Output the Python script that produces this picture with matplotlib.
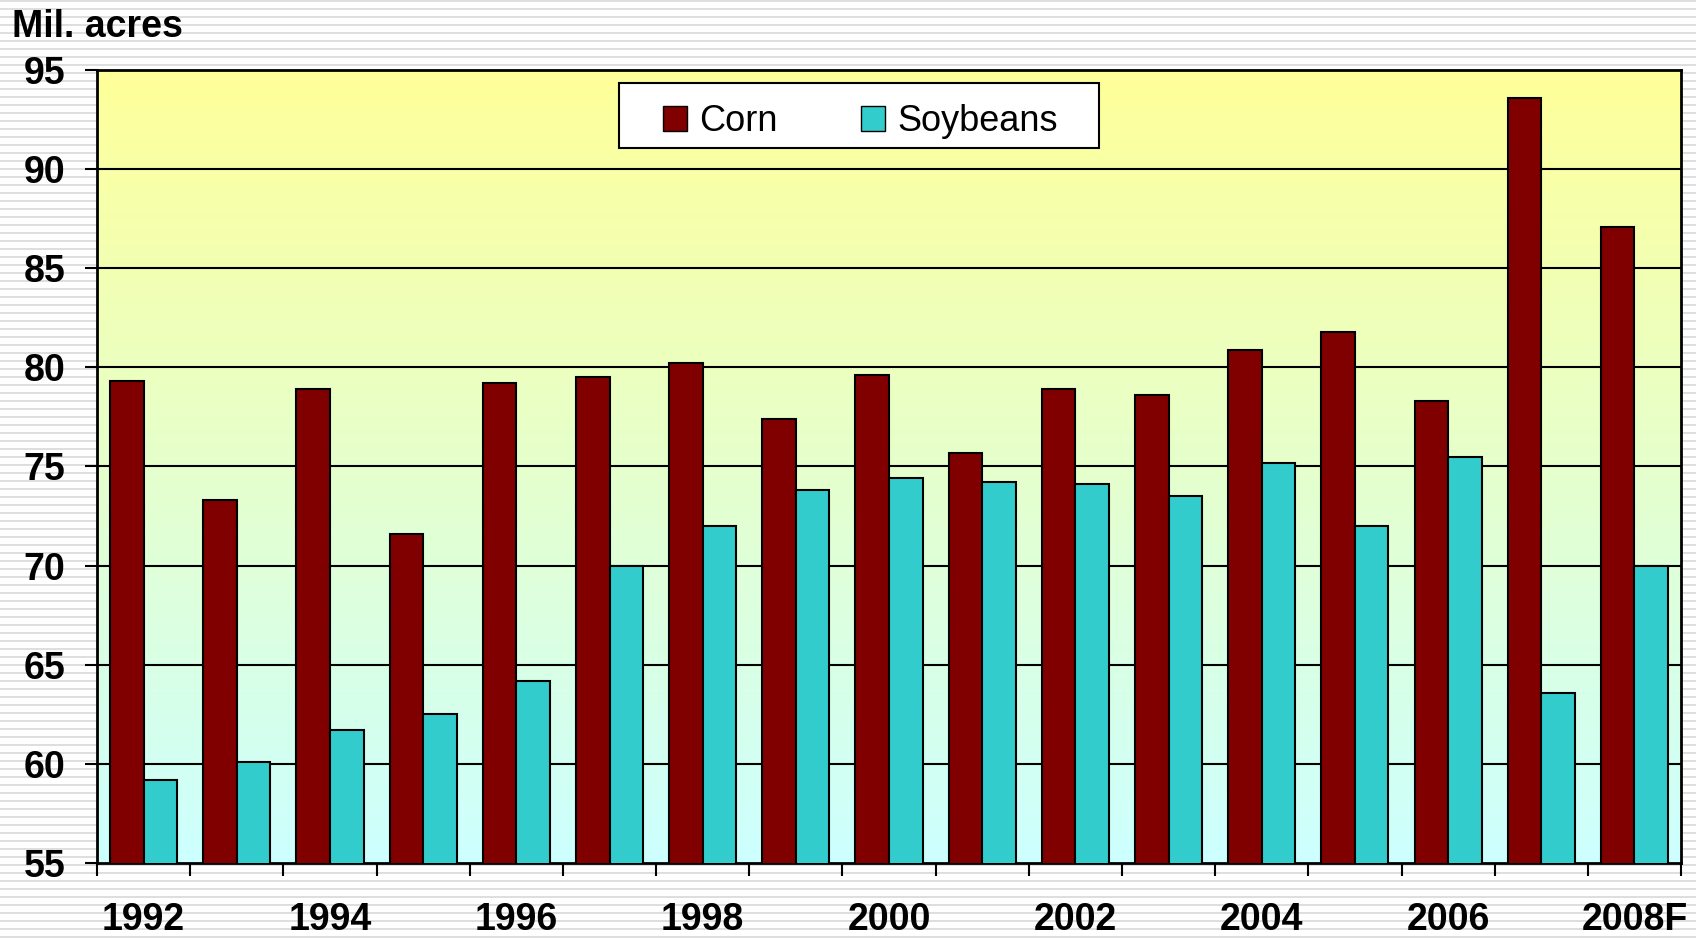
import matplotlib
matplotlib.use("Agg")
import matplotlib.pyplot as plt
import numpy as np
from matplotlib.colors import LinearSegmentedColormap
from matplotlib.patches import Patch, Rectangle

plt.rcParams['font.family'] = ['Liberation Sans', 'DejaVu Sans']

years = ['1992', '1993', '1994', '1995', '1996', '1997', '1998', '1999', '2000',
         '2001', '2002', '2003', '2004', '2005', '2006', '2007', '2008F']
corn = [79.3, 73.3, 78.9, 71.6, 79.2, 79.5, 80.2, 77.4, 79.6,
        75.7, 78.9, 78.6, 80.9, 81.8, 78.3, 93.6, 87.1]
soybeans = [59.2, 60.1, 61.7, 62.5, 64.2, 70.0, 72.0, 73.8, 74.4,
            74.2, 74.1, 73.5, 75.2, 72.0, 75.5, 63.6, 70.0]
y_ticks = [55, 60, 65, 70, 75, 80, 85, 90, 95]

fig = plt.figure(figsize=(16.96, 9.39), dpi=100)

# striped page background
bg = fig.add_axes([0, 0, 1, 1], zorder=-10)
rows = np.zeros((939, 1))
rows[np.arange(939) % 8 < 2] = 1
bg.imshow(rows, aspect='auto', cmap=LinearSegmentedColormap.from_list('s', ['#ffffff', '#dedede']),
          extent=[0, 1, 0, 1], interpolation='nearest')
bg.axis('off')

ax = fig.add_axes([0.0572, 0.0809, 0.9340, 0.8446])

# yellow to cyan gradient inside plot area
grad = np.linspace(0, 1, 256).reshape(-1, 1)
cmap = LinearSegmentedColormap.from_list('g', ['#ccffff', '#ffff99'])
ax.imshow(grad, aspect='auto', cmap=cmap, origin='lower',
          extent=[-0.5, len(years) - 0.5, 55, 95], zorder=0)

x = np.arange(len(years))
w = 0.36
ax.bar(x - w / 2, corn, w, color='#800000', edgecolor='black', linewidth=1.5, zorder=3)
ax.bar(x + w / 2, soybeans, w, color='#33cccc', edgecolor='black', linewidth=1.5, zorder=3)

ax.set_xlim(-0.5, len(years) - 0.5)
ax.set_ylim(55, 95)
ax.set_yticks(y_ticks)
ax.set_yticklabels([str(v) for v in y_ticks], fontsize=27, fontweight='bold')
for v in y_ticks[1:-1]:
    ax.axhline(v, color='black', linewidth=1.5, zorder=2)

ax.set_xticks(np.arange(len(years) + 1) - 0.5)
ax.set_xticklabels([])
ax.set_xticks(x[::2], minor=True)
ax.set_xticklabels([years[i] for i in x[::2]], minor=True, fontsize=27, fontweight='bold')
ax.tick_params(axis='x', which='minor', length=0, pad=28)
ax.tick_params(axis='both', which='major', length=9, width=1.5, direction='out')
ax.tick_params(axis='y', pad=14)

for s in ax.spines.values():
    s.set_linewidth(2)

# legend box drawn separately so it can be wider than matplotlib's padding allows
ax.add_patch(Rectangle((0.3295, 0.9017), 0.3031, 0.0819, transform=ax.transAxes,
                       facecolor='white', edgecolor='black', linewidth=1.5, zorder=5))
handles = [Patch(facecolor='#800000', edgecolor='black', label='Corn'),
           Patch(facecolor='#33cccc', edgecolor='black', label='Soybeans')]
leg = ax.legend(handles=handles, ncol=2, loc='center', bbox_to_anchor=(0.482, 0.935),
                fontsize=26, frameon=False, columnspacing=2.3,
                handlelength=0.66, handleheight=0.66, handletextpad=0.35,
                borderpad=0, borderaxespad=0)
leg.set_zorder(6)

fig.text(12 / 1696, 1 - 37 / 939, 'Mil. acres', fontsize=27, fontweight='bold', va='baseline')

fig.savefig('out.png', dpi=100)
